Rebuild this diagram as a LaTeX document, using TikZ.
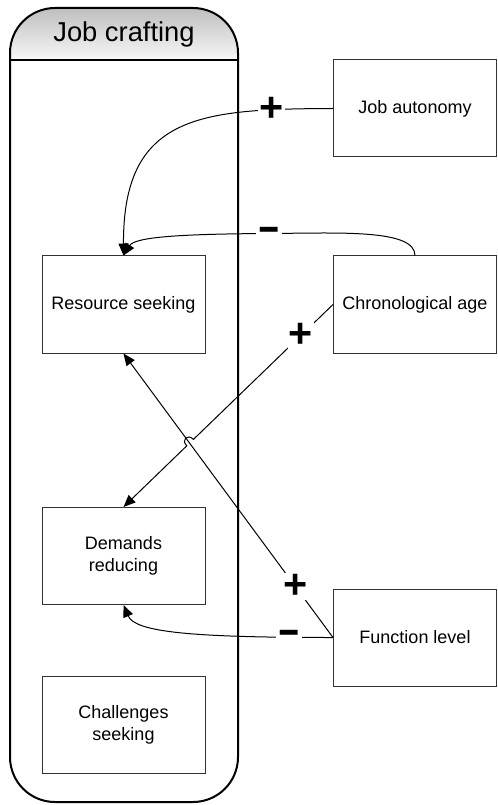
\documentclass[tikz,border=0pt]{standalone}
\usepackage{fontspec}
\usepackage{graphicx}
\setmainfont{Liberation Sans}
\usetikzlibrary{arrows.meta,calc}

\tikzset{every picture/.style={line width=0.75pt}}

\begin{document}
\begin{tikzpicture}[x=0.75pt,y=0.75pt,yscale=-1,xscale=1,
  box/.style={draw={rgb, 255:red, 51; green, 51; blue, 51 }, minimum width=122.25pt, minimum height=72.75pt, align=center, inner sep=0pt, font=\fontsize{13.5}{16.5}\selectfont},
  sign/.style={fill=white, inner sep=1pt, font=\fontsize{31}{31}\selectfont\bfseries},
  link/.style={-{Triangle[length=9pt,width=7.5pt]}}]
\useasboundingbox (0,0) rectangle (497,805);

%Shape: Swimlane header
\begin{scope}
\clip [rounded corners=33.75pt] (10,400) -- (10,8) -- (238,8) -- (238,802) -- (10,802) -- cycle ;
\shade [top color={rgb, 255:red, 190; green, 190; blue, 190 }, bottom color={rgb, 255:red, 248; green, 248; blue, 248 }] (10,8) rectangle (238,60) ;
\end{scope}
%Shape: Swimlane
\draw [line width=1.5pt] [rounded corners=33.75pt] (10,400) -- (10,8) -- (238,8) -- (238,802) -- (10,802) -- cycle ;
\draw [line width=1.5pt] (10,60) -- (238,60) ;
\node (title) at (124,34) {\fontsize{20.5}{24}\selectfont Job crafting};

%Shape: Rectangle
\node [box] (rs) at (123.5,304.5) {Resource seeking};
\node [box] (dr) at (123.5,556) {Demands\\reducing};
\node [box] (cs) at (123.5,724.5) {Challenges\\seeking};
\node [box] (ja) at (415,108.5) {Job autonomy};
\node [box] (ca) at (415,304.5) {Chronological age};
\node [box] (fl) at (415,637.5) {Function level};

%Curve Lines
\draw [link] (ja.west) .. controls (200,109) and (123,115) .. (rs.north) node [pos=0.165, sign] {+} ;
%Curve Lines
\draw [link] (ca.north) .. controls (415,229) and (340,233) .. (269,233.5) node [sign] {\scalebox{1.7}[1]{-}} .. controls (180,234) and (135,237) .. (rs.north) ;
%Straight Lines (with a jump over the crossing)
\draw [link] (ca.west) -- node [pos=0.23, sign] {+} ($(ca.west)!0.666!(dr.north)$) .. controls ($(ca.west)!0.666!(dr.north)+(-6,-6)$) and ($(ca.west)!0.698!(dr.north)+(-6,-6)$) .. ($(ca.west)!0.698!(dr.north)$) -- (dr.north) ;
%Straight Lines
\draw [link] (fl.west) -- node [pos=0.18, sign] {+} (rs.south) ;
%Curve Lines
\draw [link] (fl.west) .. controls (190,637.5) and (135,632) .. (dr.south) node [pos=0.11, sign] {\scalebox{1.7}[1]{-}} ;

\end{tikzpicture}
\end{document}
